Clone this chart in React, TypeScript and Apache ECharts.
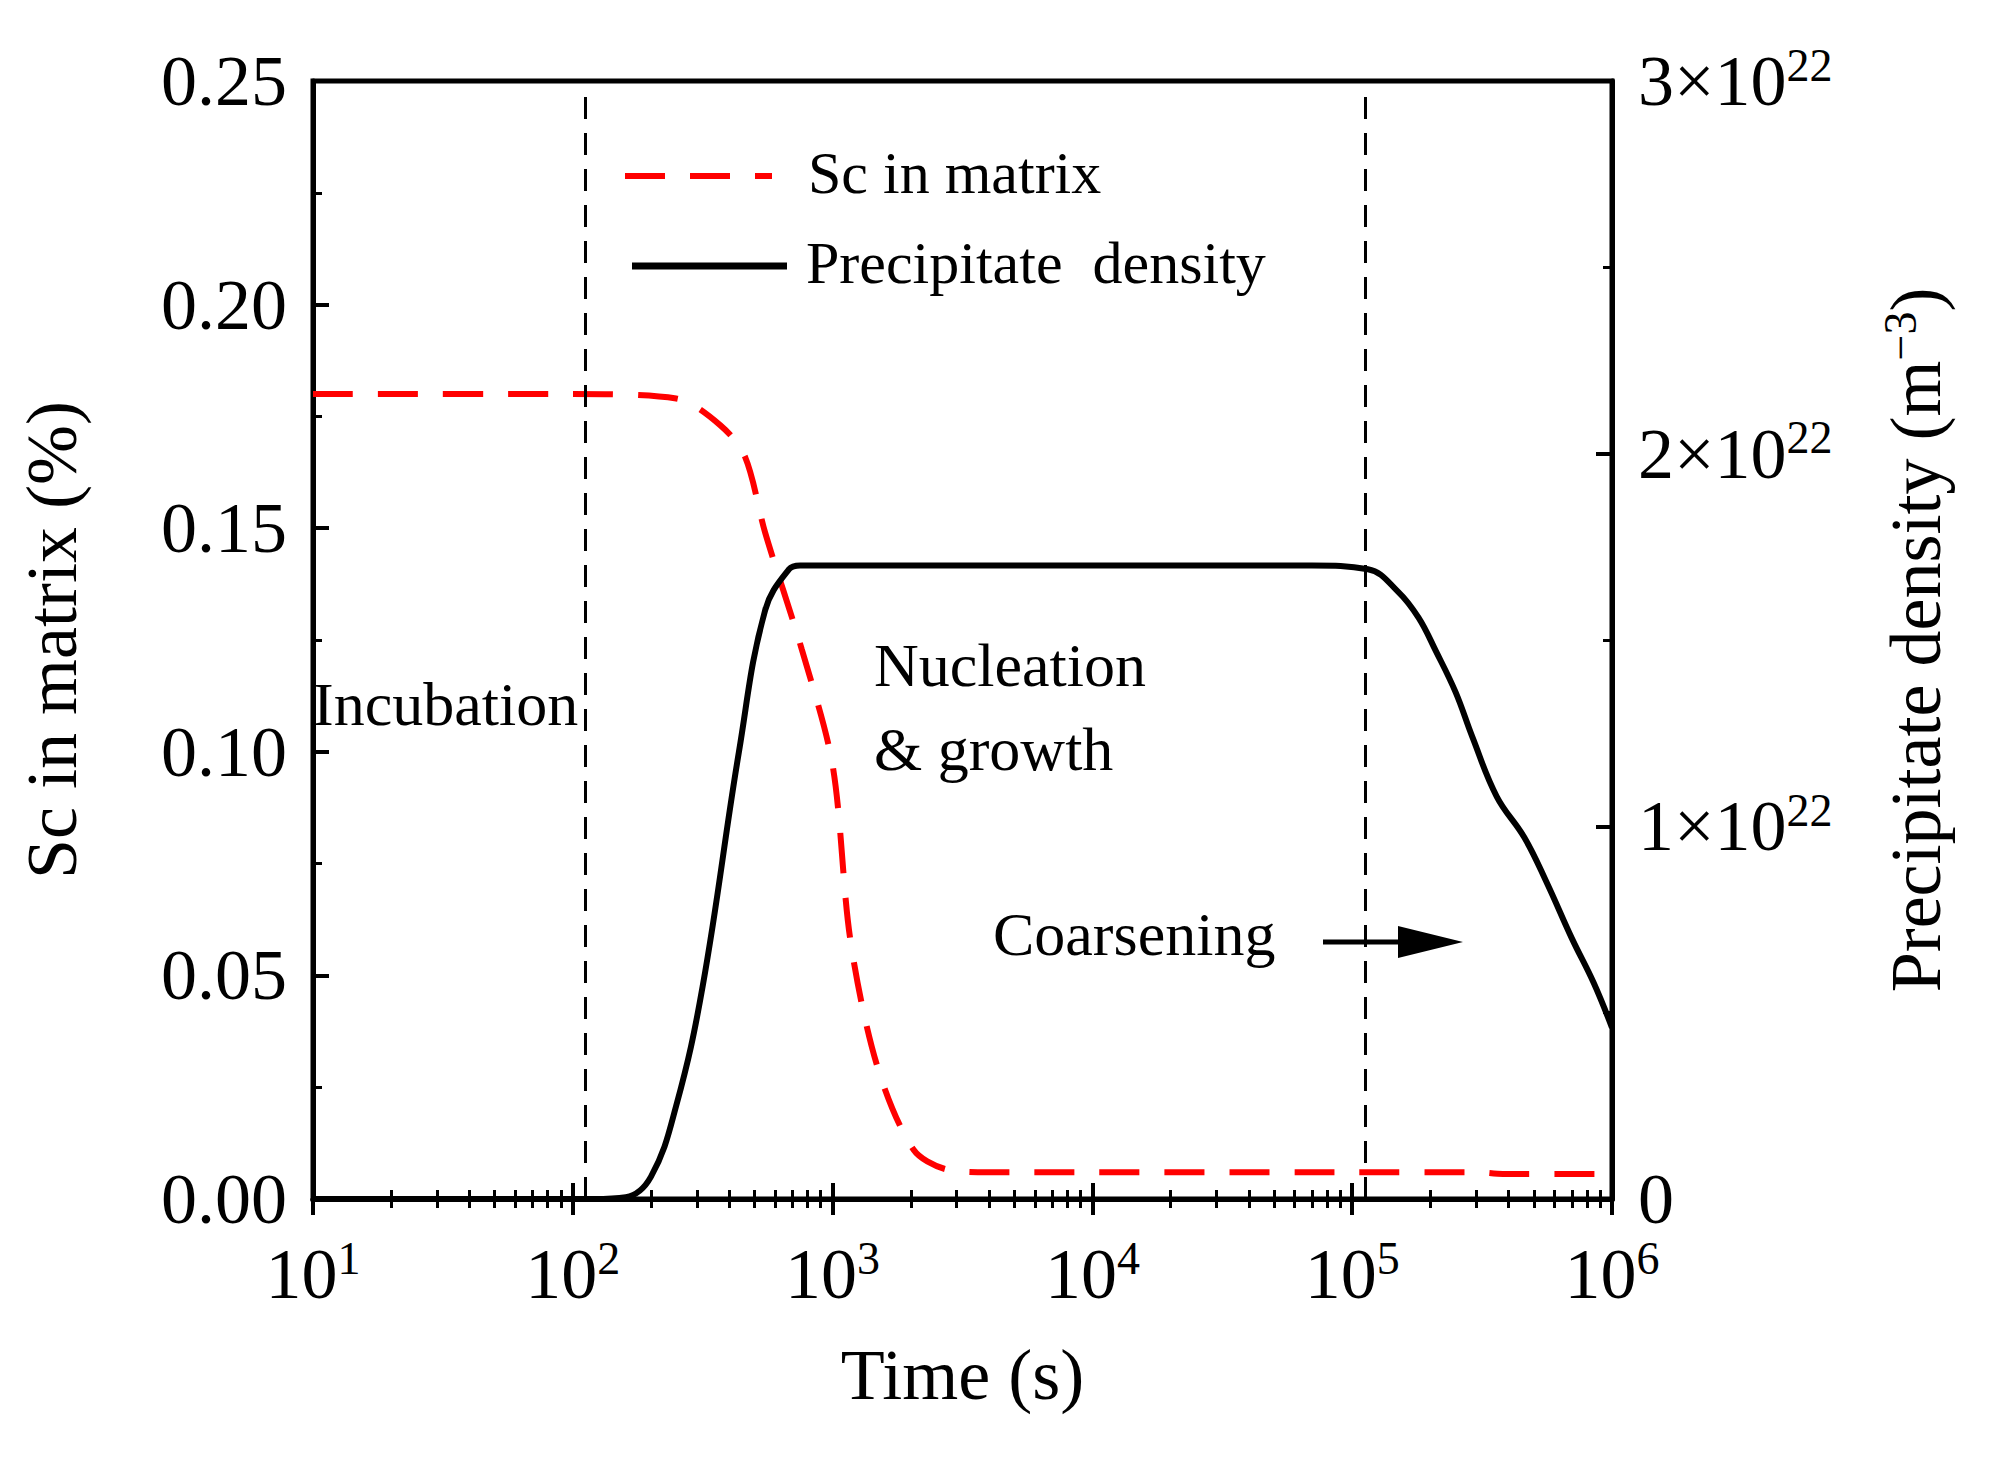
import React, { useEffect, useRef } from 'react';
import * as echarts from 'echarts';

const scTime = [10, 100, 250, 370, 460, 550, 760, 1000, 1170, 1480, 2050, 2800, 4000, 1e5, 3e5, 3.8e5, 1e6];
const scValue = [0.18, 0.18, 0.179, 0.173, 0.166, 0.149, 0.123, 0.097, 0.058, 0.03, 0.011, 0.0065, 0.006, 0.006, 0.006, 0.0056, 0.0056];

const pdTime = [10, 120, 160, 200, 250, 316, 436, 550, 680, 750, 1e4, 7e4, 1.15e5, 1.5e5, 1.8e5, 2.1e5, 2.5e5, 2.9e5, 3.6e5, 4.6e5, 5.6e5, 7e5, 8.5e5, 1e6];
const pdValue = [0, 0, 0.005, 0.06, 0.25, 0.57, 1.2, 1.58, 1.69, 1.7, 1.7, 1.7, 1.69, 1.63, 1.56, 1.47, 1.36, 1.24, 1.08, 0.97, 0.85, 0.7, 0.58, 0.46];

const stageLines = [112, 1.12e5];
const rightTicks = ['0', '1', '2', '3'];

const FONT = '"Liberation Serif", "Times New Roman", serif';
const FS = 72;

const App: React.FC = () => {
  const ref = useRef<HTMLDivElement>(null);

  useEffect(() => {
    if (!ref.current) return;
    const chart = echarts.init(ref.current, undefined, { renderer: 'svg' });
    const sup = { fontSize: 46, fontFamily: FONT, color: '#000', verticalAlign: 'top', padding: [0, 0, 32, 0] };
    const base = { fontSize: FS, fontFamily: FONT, color: '#000' };
    const xAxisCommon = {
      type: 'log',
      logBase: 10,
      min: 10,
      max: 1e6,
      axisLine: { show: true, lineStyle: { color: '#000', width: 5 } },
      axisTick: { show: true, inside: true, length: 16, lineStyle: { color: '#000', width: 4 } },
      minorTick: { show: true, splitNumber: 9, length: 9, lineStyle: { color: '#000', width: 3 } },
      splitLine: { show: false },
    };
    chart.setOption({
      animation: false,
      textStyle: { fontFamily: FONT },
      grid: { left: 289, right: 377, top: 73, bottom: 263, show: true, borderColor: '#000', borderWidth: 5 },
      xAxis: [
        {
          ...xAxisCommon,
          position: 'bottom',
          name: 'Time (s)',
          nameLocation: 'middle',
          nameGap: 140,
          nameTextStyle: base,
          axisLabel: {
            margin: 36,
            formatter: (v: number) => `{b|10}{s|${Math.round(Math.log10(v))}}`,
            rich: { b: base, s: sup },
          },
        },
        { ...xAxisCommon, show: true, position: 'top', axisLabel: { show: false } },
      ],
      yAxis: [
        {
          type: 'value',
          min: 0,
          max: 0.25,
          interval: 0.05,
          name: 'Sc in matrix (%)',
          nameLocation: 'middle',
          nameGap: 225,
          nameTextStyle: base,
          axisLine: { show: true, lineStyle: { color: '#000', width: 5 } },
          axisTick: { inside: true, length: 16, lineStyle: { color: '#000', width: 4 } },
          minorTick: { show: true, splitNumber: 2, length: 9, lineStyle: { color: '#000', width: 3 } },
          splitLine: { show: false },
          axisLabel: { ...base, margin: 26, formatter: (v: number) => v.toFixed(2) },
        },
        {
          type: 'value',
          min: 0,
          max: 3,
          interval: 1,
          position: 'right',
          name: '{b|Precipitate density (m}{s|−3}{b|)}',
          nameLocation: 'middle',
          nameGap: 265,
          nameRotate: 90,
          nameTextStyle: { rich: { b: base, s: sup } },
          axisLine: { show: true, lineStyle: { color: '#000', width: 5 } },
          axisTick: { inside: true, length: 16, lineStyle: { color: '#000', width: 4 } },
          minorTick: { show: true, splitNumber: 2, length: 9, lineStyle: { color: '#000', width: 3 } },
          splitLine: { show: false },
          axisLabel: {
            margin: 26,
            formatter: (v: number) => {
              const t = rightTicks[Math.round(v)];
              return t === '0' ? '{b|0}' : `{b|${t}×10}{s|22}`;
            },
            rich: { b: base, s: sup },
          },
        },
      ],
      series: [
        {
          name: 'Sc in matrix',
          type: 'line',
          yAxisIndex: 0,
          showSymbol: false,
          smooth: 0.3,
          lineStyle: { color: '#ff0000', width: 6, type: [40, 25] },
          itemStyle: { color: '#ff0000' },
          data: scTime.map((t, i) => [t, scValue[i]]),
          markLine: {
            silent: true,
            symbol: 'none',
            label: { show: false },
            lineStyle: { color: '#000', width: 3, type: [22, 14] },
            data: stageLines.map((x) => ({ xAxis: x })),
          },
        },
        {
          name: 'Precipitate density',
          type: 'line',
          yAxisIndex: 1,
          showSymbol: false,
          smooth: 0.4,
          lineStyle: { color: '#000', width: 6 },
          itemStyle: { color: '#000' },
          data: pdTime.map((t, i) => [t, pdValue[i]]),
        },
      ],
      graphic: [
        { type: 'line', shape: { x1: 617, y1: 168, x2: 764, y2: 168 }, style: { stroke: '#ff0000', lineWidth: 6, lineDash: [40, 25] } },
        { type: 'line', shape: { x1: 624, y1: 258, x2: 779, y2: 258 }, style: { stroke: '#000', lineWidth: 7 } },
        { type: 'text', x: 800, y: 135, style: { text: 'Sc in matrix', font: `60px ${FONT}`, fill: '#000' } },
        { type: 'text', x: 798, y: 225, style: { text: 'Precipitate  density', font: `60px ${FONT}`, fill: '#000' } },
        { type: 'text', x: 305, y: 665, style: { text: 'Incubation', font: `62px ${FONT}`, fill: '#000' } },
        { type: 'text', x: 866, y: 615, style: { text: 'Nucleation\n& growth', font: `62px ${FONT}`, fill: '#000', lineHeight: 84 } },
        { type: 'text', x: 985, y: 895, style: { text: 'Coarsening', font: `62px ${FONT}`, fill: '#000' } },
        { type: 'line', shape: { x1: 1315, y1: 934, x2: 1400, y2: 934 }, style: { stroke: '#000', lineWidth: 5 } },
        { type: 'polygon', shape: { points: [[1390, 918], [1455, 934], [1390, 950]] }, style: { fill: '#000' } },
      ],
    });
    return () => chart.dispose();
  }, []);

  return <div ref={ref} style={{ width: 1981, height: 1454 }} />;
};

export default App;
